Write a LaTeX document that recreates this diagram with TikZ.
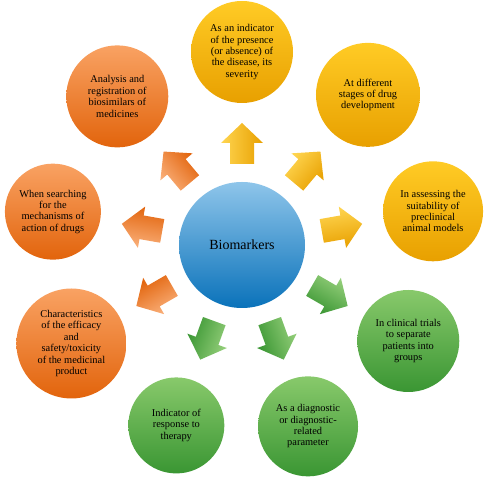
\documentclass[tikz,border=0pt]{standalone}
\usepackage{fontspec}
\setmainfont{Liberation Serif}
\usetikzlibrary{calc}
\definecolor{ytop}{HTML}{FFCB25}
\definecolor{ybot}{HTML}{E8A000}
\definecolor{otop}{HTML}{F9A263}
\definecolor{obot}{HTML}{E2640C}
\definecolor{gtop}{HTML}{88C96B}
\definecolor{gbot}{HTML}{3A9633}
\definecolor{btop}{HTML}{8EC5EA}
\definecolor{bbot}{HTML}{0A72BA}
\tikzset{
  bubble/.style={circle, inner sep=0pt, align=center, text=black,
    font=\fontsize{10.4}{11.4}\selectfont},
  ybub/.style={bubble, top color=ytop, bottom color=ybot},
  obub/.style={bubble, top color=otop, bottom color=obot},
  gbub/.style={bubble, top color=gtop, bottom color=gbot},
  yarr/.style={top color=ytop!80!white, bottom color=ybot},
  oarr/.style={top color=otop!85!white, bottom color=obot},
  garr/.style={top color=gtop!90!white, bottom color=gbot},
}
\newcommand\bkarrow[2]{\shade[#2, shading angle=#1, shift={(c.center)}, rotate=#1]
  (81,-12) -- (102,-12) -- (102,-21) -- (122,0) -- (102,21) -- (102,12) -- (81,12) -- cycle;}
\begin{document}
\begin{tikzpicture}[x=1pt,y=1pt]
\useasboundingbox (0,0) rectangle (484,478);
\node[circle, inner sep=0pt, minimum size=126pt, top color=btop, bottom color=bbot,
  font=\fontsize{14}{16}\selectfont] (c) at (242,233) {Biomarkers};
\node[ybub, minimum size=102pt] (n1) at ($(c)+(90:193)$) {As an indicator\\of the presence\\(or absence) of\\the disease, its\\severity};
\node[ybub, minimum size=104pt] (n2) at ($(c)+(50:196)$) {At different\\stages of drug\\development};
\node[ybub, minimum size=100pt] (n3) at ($(c)+(10:194)$) {In assessing the\\suitability of\\preclinical\\animal models};
\node[gbub, minimum size=102pt] (n4) at ($(c)+(-30:192)$) {In clinical trials\\to separate\\patients into\\groups};
\node[gbub, minimum size=100pt] (n5) at ($(c)+(-70:193)$) {As a diagnostic\\or diagnostic-\\related\\parameter};
\node[gbub, minimum size=96pt] (n6) at ($(c)+(-110:192)$) {Indicator of\\response to\\therapy};
\node[obub, minimum size=110pt] (n7) at ($(c)+(-150:197)$) {Characteristics\\of the efficacy\\and\\safety/toxicity\\of the medicinal\\product};
\node[obub, minimum size=96pt] (n8) at ($(c)+(170:192)$) {When searching\\for the\\mechanisms of\\action of drugs};
\node[obub, minimum size=102pt] (n9) at ($(c)+(130:194)$) {Analysis and\\registration of\\biosimilars of\\medicines};
\bkarrow{90}{yarr}
\bkarrow{50}{yarr}
\bkarrow{10}{yarr}
\bkarrow{-30}{garr}
\bkarrow{-70}{garr}
\bkarrow{-110}{garr}
\bkarrow{-150}{oarr}
\bkarrow{170}{oarr}
\bkarrow{130}{oarr}
\end{tikzpicture}
\end{document}
